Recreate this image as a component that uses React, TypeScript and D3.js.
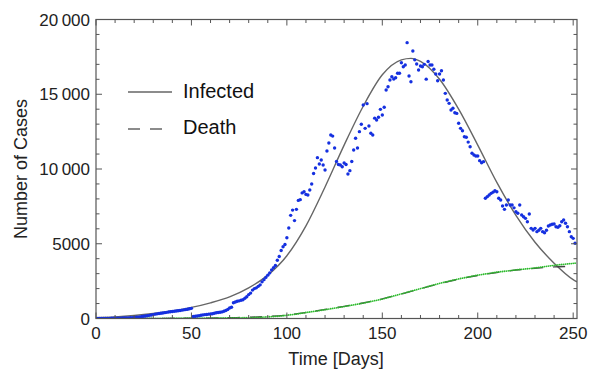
import React from 'react'
import * as d3 from 'd3'

// daily new cases, index = day
const dailyCases = [
	0, 0, 0, 2, 3, 5, 8, 10, 12, 15,
	18, 20, 22, 25, 30, 35, 40, 45, 55, 60,
	70, 80, 95, 110, 130, 150, 170, 190, 210, 230,
	260, 290, 310, 330, 350, 370, 390, 410, 430, 450,
	470, 480, 500, 520, 540, 560, 580, 600, 620, 650,
	680, 130, 150, 170, 190, 220, 240, 260, 270, 290,
	300, 320, 350, 380, 400, 420, 440, 480, 540, 600,
	700, 750, 1050, 1100, 1150, 1180, 1220, 1250, 1350, 1450,
	1600, 1700, 1900, 2000, 2050, 2150, 2250, 2450, 2600, 2750,
	2900, 3050, 3250, 3400, 3550, 3900, 4150, 4550, 4800, 4950,
	5400, 6050, 6900, 7250, 6550, 7300, 7900, 7950, 8400, 8480,
	8300, 8260, 8600, 9000, 9700, 10070, 10760, 10330, 10600, 10270,
	9930, 11200, 11740, 12270, 12200, 11400, 10500, 10300, 10270, 10150,
	10400, 10300, 9670, 9890, 10500, 11270, 12060, 11400, 12500, 12990,
	14280, 12720, 14370, 12880, 12390, 12270, 13400, 13280, 13460, 13990,
	13610, 14130, 15280, 15500, 15950, 16170, 16020, 16100, 16400, 16400,
	17110, 16840, 16960, 18450, 16220, 15840, 17890, 17300, 17020, 16620,
	16890, 16840, 17000, 16010, 17190, 16960, 16960, 16670, 16350, 15900,
	16350, 16570, 15950, 15060, 14620, 14390, 13950, 14060, 13760, 13720,
	13060, 12720, 12560, 12160, 12120, 11800, 11490, 11050, 10940, 10870,
	10870, 10560, 10420, 10490, 8040, 8150, 8260, 8370, 8450, 8550,
	8480, 8040, 7930, 7530, 7300, 7590, 7930, 7590, 7590, 7400,
	7140, 7040, 7590, 6920, 6810, 6700, 6470, 6990, 6030, 5920,
	6030, 5810, 5900, 6030, 5810, 5740, 5900, 6190, 6250, 6300,
	6320, 6140, 6100, 6200, 6470, 6590, 6370, 6140, 5810, 5470,
	5360, 5030
]

// cumulative deaths, index = day
const cumDeaths = [
	0, 0, 0, 0, 1, 1, 1, 1, 2, 2,
	2, 3, 3, 3, 4, 4, 4, 5, 5, 5,
	6, 6, 7, 7, 7, 8, 8, 9, 9, 10,
	10, 11, 11, 12, 12, 13, 13, 14, 14, 15,
	15, 16, 16, 17, 17, 18, 18, 19, 19, 20,
	20, 21, 21, 22, 23, 24, 24, 25, 26, 27,
	28, 29, 30, 31, 32, 33, 34, 35, 36, 37,
	38, 39, 41, 42, 44, 45, 47, 49, 51, 53,
	55, 58, 62, 66, 70, 75, 80, 86, 92, 100,
	110, 118, 126, 134, 143, 152, 162, 172, 184, 200,
	220, 235, 250, 265, 282, 300, 318, 338, 358, 378,
	400, 418, 436, 455, 474, 493, 512, 532, 551, 571,
	590, 610, 631, 652, 673, 694, 715, 736, 757, 778,
	800, 823, 846, 869, 892, 915, 938, 961, 984, 1007,
	1030, 1056, 1083, 1110, 1137, 1164, 1191, 1218, 1245, 1272,
	1300, 1335, 1370, 1405, 1440, 1475, 1510, 1545, 1580, 1615,
	1650, 1685, 1720, 1755, 1790, 1825, 1860, 1895, 1930, 1965,
	2000, 2035, 2070, 2105, 2140, 2175, 2210, 2245, 2280, 2315,
	2350, 2380, 2410, 2440, 2470, 2500, 2530, 2560, 2590, 2620,
	2650, 2675, 2700, 2725, 2750, 2775, 2800, 2825, 2850, 2875,
	2900, 2920, 2940, 2960, 2980, 3000, 3020, 3040, 3060, 3080,
	3100, 3115, 3130, 3145, 3160, 3175, 3190, 3205, 3220, 3235,
	3250, 3263, 3276, 3289, 3302, 3315, 3328, 3341, 3354, 3367,
	3380, 3398, 3416, 3434, 3452, 3470, 3488, 3506, 3524, 3542,
	3560, 3573, 3586, 3599, 3612, 3625, 3638, 3651, 3664, 3677,
	3690, 3700
]

// fitted model curves
const fitDays = [0, 10, 20, 30, 40, 50, 60, 70, 80, 90, 100, 110, 120, 130, 140, 150, 160, 165, 170, 180, 190, 200, 210, 220, 230, 240, 250, 252]
const infectedFit = [60, 110, 200, 330, 500, 740, 1050, 1450, 2050, 2900, 4200, 6200, 8800, 11600, 14200, 16300, 17300, 17400, 17200, 16000, 14000, 11600, 9100, 6900, 5100, 3700, 2600, 2450]

const deathFitDays = [0, 50, 70, 80, 90, 100, 110, 120, 130, 140, 150, 160, 170, 180, 190, 200, 210, 220, 230, 240, 248]
const deathFit = [0, 20, 50, 80, 140, 230, 400, 600, 810, 1040, 1310, 1640, 1990, 2330, 2630, 2880, 3080, 3240, 3360, 3450, 3490]

const xMajor = [0, 50, 100, 150, 200, 250]
const yMajor = [0, 5000, 10000, 15000, 20000]

const W = 589
const H = 371
const left = 96
const right = 577
const top = 19.5
const bottom = 318.5
const font = 'Liberation Sans, Arial, sans-serif'
const frameColor = '#555'

const fmt = (v: number) => (v >= 10000 ? d3.format(',')(v).replace(',', '\u2009') : String(v))

const App = () => {
	const x = d3.scaleLinear().domain([0, 252]).range([left, right])
	const y = d3.scaleLinear().domain([0, 20000]).range([bottom, top])

	const xMinor = d3.range(0, 253, 10)
	const yMinor = d3.range(0, 20001, 1000)

	const fitLine = d3
		.line<number>()
		.x((d, i) => x(fitDays[i]))
		.y((d) => y(d))
		.curve(d3.curveMonotoneX)
	const deathLine = d3
		.line<number>()
		.x((d, i) => x(deathFitDays[i]))
		.y((d) => y(d))
		.curve(d3.curveMonotoneX)

	return (
		<svg width={W} height={H} style={{ position: 'absolute', left: 0, top: 0, background: '#fff' }}>
			<defs>
				<clipPath id="plot">
					<rect x={left} y={top} width={right - left} height={bottom - top} />
				</clipPath>
			</defs>
			{/* curves and points */}
			<g clipPath="url(#plot)">
				<path d={fitLine(infectedFit) || ''} fill="none" stroke="#666" strokeWidth={1.4} />
				<path d={deathLine(deathFit) || ''} fill="none" stroke="#444" strokeWidth={1.4} strokeDasharray="12,10" />
				{cumDeaths.map((v, i) => (
					<circle key={'g' + i} cx={x(i)} cy={y(v)} r={0.9} fill="#2dbb2d" />
				))}
				{dailyCases.map((v, i) => (
					<circle key={'b' + i} cx={x(i)} cy={y(v)} r={1.7} fill="#1530e0" />
				))}
			</g>
			{/* frame */}
			<rect x={left} y={top} width={right - left} height={bottom - top} fill="none" stroke={frameColor} strokeWidth={1.2} />
			{/* ticks */}
			<g stroke={frameColor} strokeWidth={1}>
				{xMinor.map((t) => {
					const len = t % 50 === 0 ? 6 : 3.5
					return (
						<g key={'xt' + t}>
							<line x1={x(t)} x2={x(t)} y1={bottom} y2={bottom - len} />
							<line x1={x(t)} x2={x(t)} y1={top} y2={top + len} />
						</g>
					)
				})}
				{yMinor.map((t) => {
					const len = t % 5000 === 0 ? 6 : 3.5
					return (
						<g key={'yt' + t}>
							<line x1={left} x2={left + len} y1={y(t)} y2={y(t)} />
							<line x1={right} x2={right - len} y1={y(t)} y2={y(t)} />
						</g>
					)
				})}
			</g>
			{/* tick labels */}
			<g fontFamily={font} fontSize={17} fill="#222">
				{xMajor.map((t) => (
					<text key={'xl' + t} x={x(t)} y={339} textAnchor="middle">
						{t}
					</text>
				))}
				{yMajor.map((t) => (
					<text key={'yl' + t} x={left - 6} y={y(t) + 6} textAnchor="end">
						{fmt(t)}
					</text>
				))}
			</g>
			{/* axis titles */}
			<text x={336} y={365} textAnchor="middle" fontFamily={font} fontSize={18} fill="#222">
				Time [Days]
			</text>
			<text transform={`translate(27,${(top + bottom) / 2}) rotate(-90)`} textAnchor="middle" fontFamily={font} fontSize={18} fill="#222">
				Number of Cases
			</text>
			{/* legend */}
			<g fontFamily={font} fontSize={20} fill="#111">
				<line x1={128} x2={172} y1={92} y2={92} stroke="#666" strokeWidth={1.4} />
				<text x={183} y={98}>Infected</text>
				<line x1={128} x2={162} y1={129} y2={129} stroke="#666" strokeWidth={1.4} strokeDasharray="12,10" />
				<text x={183} y={134}>Death</text>
			</g>
		</svg>
	)
}

export default App
